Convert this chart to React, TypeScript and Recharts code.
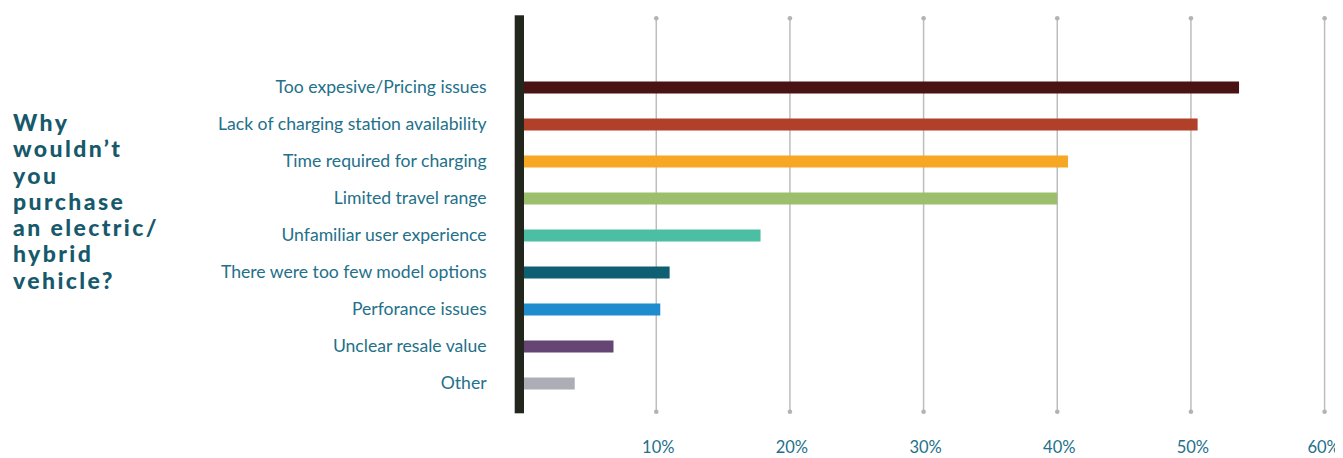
import React from "react";
import { BarChart, Bar, XAxis, YAxis, CartesianGrid, Cell, ReferenceLine } from "recharts";

const categories = [
  "Too expesive/Pricing issues",
  "Lack of charging station availability",
  "Time required for charging",
  "Limited travel range",
  "Unfamiliar user experience",
  "There were too few model options",
  "Perforance issues",
  "Unclear resale value",
  "Other",
];
const values = [53.6, 50.5, 40.8, 40.0, 17.8, 11.0, 10.3, 6.8, 3.9];
const colors = [
  "#4a1313",
  "#b04028",
  "#f6a723",
  "#9cbf6c",
  "#4bbea3",
  "#0f5f73",
  "#1f8ccd",
  "#654574",
  "#abaeb5",
];
const xTicks = [0, 10, 20, 30, 40, 50, 60];
const titleLines = ["Why", "wouldn\u2019t", "you", "purchase", "an electric/", "hybrid", "vehicle?"];

const data = categories.map((name, i) => ({ name, value: values[i] }));

const TEXT = "#23708a";
const FONT = "Lato, 'Noto Sans', sans-serif";

const YTick = (props: any) => {
  const { x, y, payload } = props;
  return (
    <text x={x} y={y - 1} textAnchor="end" dominantBaseline="central" fill={TEXT} fontSize={17.6} fontFamily={FONT}>
      {payload.value}
    </text>
  );
};

const XTick = (props: any) => {
  const { x, y, payload, index } = props;
  if (payload.value === 0) return <g />;
  const last = payload.value === xTicks[xTicks.length - 1];
  return (
    <text
      x={x + (last ? -1 : 2)}
      y={y + 34}
      textAnchor="middle"
      dominantBaseline="central"
      fill={TEXT}
      fontSize={16.5}
      fontFamily={FONT}
    >
      {payload.value + "%"}
    </text>
  );
};

const gridLine = (props: any) => {
  const { x1, y1, y2, index } = props;
  if (index === 0) return <g key={props.key} />;
  const top = y1 + 3;
  const bottom = y2 - 1.6;
  return (
    <g key={props.key}>
      <line x1={x1} x2={x1} y1={top} y2={bottom} stroke="#bdbdbd" strokeWidth={1.5} />
      <circle cx={x1} cy={top} r={2.3} fill="#b3b3b3" />
      <circle cx={x1} cy={bottom} r={2.3} fill="#b3b3b3" />
    </g>
  );
};

const axisBar = (props: any) => {
  const { x1, y1, y2 } = props;
  return <rect x={x1 - 7.9} y={Math.min(y1, y2)} width={9.3} height={Math.abs(y2 - y1)} fill="#22261c" />;
};

export default function App() {
  return (
    <div style={{ position: "relative", width: 1335, height: 450 }}>
      <style>{"html,body{overflow:hidden;} .recharts-wrapper, .recharts-surface{overflow:visible !important;}"}</style>
      <div
        style={{
          position: "absolute",
          left: 5,
          top: 101,
          fontFamily: FONT,
          fontWeight: 900,
          fontSize: 23,
          letterSpacing: 2.4,
          lineHeight: "26.3px",
          color: "#17596c",
        }}
      >
        {titleLines.map((l, i) => (
          <div key={i}>{l}</div>
        ))}
      </div>
      <BarChart
        layout="vertical"
        width={1335}
        height={450}
        data={data}
        margin={{ top: 7.3, right: 18.4, bottom: 4.7, left: 214.6 }}
      >
        <CartesianGrid horizontal={false} vertical={gridLine} />
        <XAxis
          type="number"
          domain={[0, 60]}
          ticks={xTicks}
          axisLine={false}
          tickLine={false}
          tickSize={0}
          tickMargin={0}
          height={40}
          tick={XTick}
          interval={0}
        />
        <YAxis
          type="category"
          dataKey="name"
          width={300}
          axisLine={false}
          tickLine={false}
          tickSize={0}
          tickMargin={36}
          padding={{ top: 53.2, bottom: 11.8 }}
          tick={YTick}
          interval={0}
        />
        <Bar dataKey="value" barSize={12} isAnimationActive={false}>
          {data.map((d, i) => (
            <Cell key={i} fill={colors[i]} />
          ))}
        </Bar>
        <ReferenceLine x={0} shape={axisBar} />
      </BarChart>
    </div>
  );
}
